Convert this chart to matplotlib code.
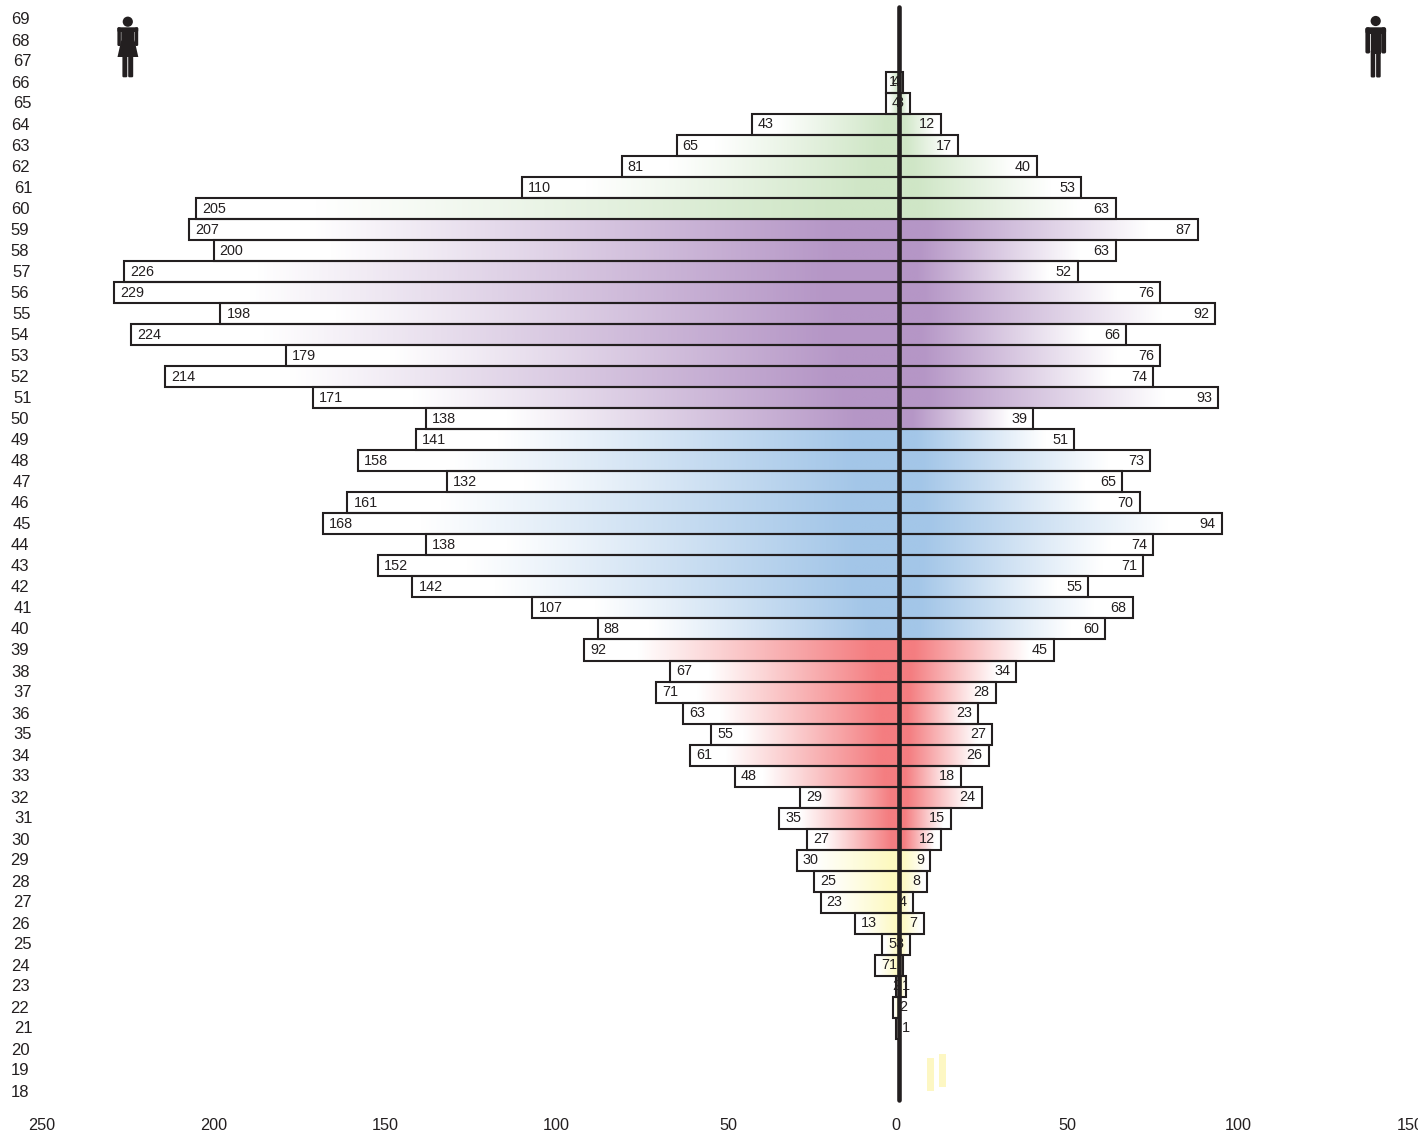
import matplotlib
matplotlib.use("Agg")
import matplotlib.pyplot as plt
import numpy as np
from matplotlib.colors import LinearSegmentedColormap
from matplotlib.patches import Circle, FancyBboxPatch, Polygon, Rectangle
from matplotlib.transforms import ScaledTranslation

ages = list(range(69, 17, -1))
women = [0, 0, 0, 4, 4, 43, 65, 81, 110, 205,
         207, 200, 226, 229, 198, 224, 179, 214, 171, 138,
         141, 158, 132, 161, 168, 138, 152, 142, 107, 88,
         92, 67, 71, 63, 55, 61, 48, 29, 35, 27,
         30, 25, 23, 13, 5, 7, 1, 2, 1, 0, 0, 0]
men = [0, 0, 0, 1, 3, 12, 17, 40, 53, 63,
       87, 63, 52, 76, 92, 66, 76, 74, 93, 39,
       51, 73, 65, 70, 94, 74, 71, 55, 68, 60,
       45, 34, 28, 23, 27, 26, 18, 24, 15, 12,
       9, 8, 4, 7, 3, 1, 2, 0, 0, 0, 0, 0]
xticks = [-250, -200, -150, -100, -50, 0, 50, 100, 150]

# decade of age -> colour at the centre of the bar
decade_colors = {6: "#cfe6c6", 5: "#b596c6", 4: "#a3c6e8", 3: "#f47d80", 2: "#fdf9c0"}
# the two stray pale marks near the bottom
stray_x = [9.0, 12.6]
stray_age = [18.0, 18.2]
stray_len = [1.6, 1.6]

ink = "#231f20"
W, H = 1418, 1133
zero_px, px_per_unit = 899.5, 3.43
age64_px, px_per_age = 124.5, 21.02
ax_left, ax_bottom = 36, 1110

plt.rcParams["font.family"] = ["Liberation Sans", "DejaVu Sans"]
fig = plt.figure(figsize=(W / 100, H / 100), dpi=100)
ax = fig.add_axes([ax_left / W, (H - ax_bottom) / H, (W - ax_left) / W, ax_bottom / H])

cmaps = {}
for d, c in decade_colors.items():
    cmaps[d] = LinearSegmentedColormap.from_list(
        "d%d" % d, [(0, "#ffffff"), (0.17, "#ffffff"), (0.91, c), (1, c)])
grad = np.linspace(0, 1, 256).reshape(1, -1)

for age, f, m in zip(ages, women, men):
    if f == 0 and m == 0:
        continue
    cmap = cmaps[age // 10]
    # left bar runs tip -> centre, right bar centre -> tip
    if f > 0:
        ax.imshow(grad, cmap=cmap, extent=(-f, 0, age - 0.5, age + 0.5),
                  aspect="auto", zorder=1, interpolation="bilinear")
        ax.barh(age, -f, height=1, facecolor="none", edgecolor=ink, linewidth=1.5, zorder=2)
        ax.annotate(str(f), (-f, age), xytext=(4.4, 0), textcoords="offset points",
                    ha="left", va="center", fontsize=10.4, color=ink, zorder=5)
    if m > 0:
        ax.imshow(grad[:, ::-1], cmap=cmap, extent=(0, m, age - 0.5, age + 0.5),
                  aspect="auto", zorder=1, interpolation="bilinear")
        ax.barh(age, m, height=1, facecolor="none", edgecolor=ink, linewidth=1.5, zorder=2)
        ax.annotate(str(m), (m, age), xytext=(-4.4, 0), textcoords="offset points",
                    ha="right", va="center", fontsize=10.4, color=ink, zorder=5)

for x, a, l in zip(stray_x, stray_age, stray_len):
    ax.bar(x, l, width=2, bottom=a, color="#fdf7c3", zorder=1)

# centre line
ax.plot([-0.2, -0.2], [17.6, 69.6], color=ink, lw=3.3, solid_capstyle="round", zorder=4)

ax.set_xlim((ax_left - zero_px) / px_per_unit, (W - zero_px) / px_per_unit)
ax.set_ylim(64 - (ax_bottom - age64_px) / px_per_age, 64 + age64_px / px_per_age)

ax.set_yticks(ages)
ax.set_yticklabels([str(a) for a in ages], fontsize=12, color=ink)
ax.set_xticks(xticks)
ax.set_xticklabels([str(abs(t)) for t in xticks], fontsize=11.7, color=ink)
ax.tick_params(length=0, pad=4.8)
ax.tick_params(axis="x", pad=5.6)
for s in ax.spines.values():
    s.set_visible(False)

# the labels in the picture sit a little off the grid
for t, a in zip(ax.get_yticklabels(), ages):
    dx = {1: 3, 5: 2, 7: 2}.get(a % 10, 0) if a > 20 else 0
    dy = 0.5 if a % 2 == 0 else 1
    t.set_transform(t.get_transform() + ScaledTranslation(dx / 100, dy / 100, fig.dpi_scale_trans))
for t, v in zip(ax.get_xticklabels(), xticks):
    if v >= 0:
        t.set_transform(t.get_transform() + ScaledTranslation(-4 / 100, 0, fig.dpi_scale_trans))

# figures for women / men, drawn in pixel space
ov = fig.add_axes([0, 0, 1, 1], facecolor="none")
ov.set_xlim(0, W)
ov.set_ylim(H, 0)
ov.axis("off")


def box(x0, y0, x1, y1, r=1.3):
    ov.add_patch(FancyBboxPatch((x0 + r, y0 + r), x1 - x0 - 2 * r, y1 - y0 - 2 * r,
                                boxstyle="round,pad=%s,rounding_size=%s" % (r, r),
                                facecolor=ink, edgecolor="none", lw=0))


# woman
ov.add_patch(Circle((127.8, 21.7), 5.1, color=ink, lw=0))
box(117.4, 27.3, 120.9, 46)
box(134.9, 27.3, 138.2, 46)
box(117.4, 27.3, 138.2, 32)
ov.add_patch(Polygon([(121.3, 30), (134.5, 30), (134.5, 40), (138.3, 57), (117.5, 57), (121.3, 40)],
                     color=ink, lw=0))
box(122.4, 55, 127.3, 77.3, r=1.2)
box(128.2, 55, 133.2, 77.3, r=1.2)
# man
ov.add_patch(Circle((1375.7, 21), 5.1, color=ink, lw=0))
box(1365.4, 27.3, 1370.2, 53.5, r=1.8)
box(1381.2, 27.3, 1386.1, 53.5, r=1.8)
box(1365.4, 27.3, 1386.1, 34, r=2.5)
ov.add_patch(Rectangle((1370.7, 30), 10, 24, color=ink, lw=0))
box(1370.7, 50, 1375.2, 77.5, r=1.3)
box(1376.1, 50, 1380.7, 77.5, r=1.3)

fig.savefig("out.png", dpi=100, facecolor="white")
